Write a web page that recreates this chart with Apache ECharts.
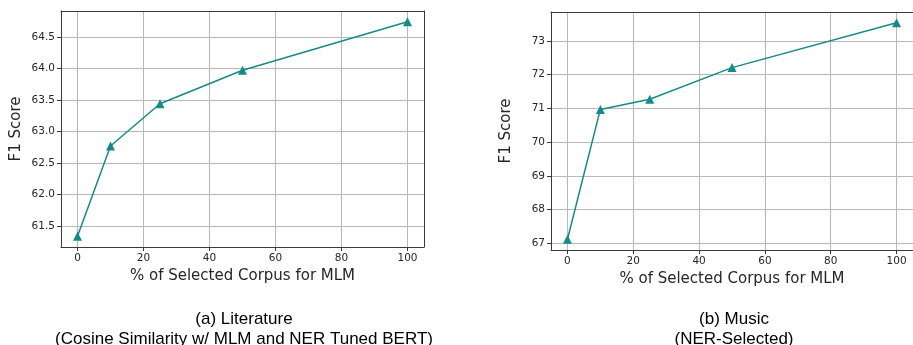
<!DOCTYPE html>
<html>
<head>
<meta charset="utf-8">
<script src="https://cdn.jsdelivr.net/npm/echarts@6/dist/echarts.min.js"></script>
<style>
html, body { margin: 0; padding: 0; background: #fff; }
#main { width: 913px; height: 345px; }
</style>
</head>
<body>
<div id="main"></div>
<script>
// data
var pctCorpus = [0, 10, 25, 50, 100];
var f1Literature = [61.34, 62.77, 63.44, 63.97, 64.74];
var f1Music = [67.12, 70.97, 71.27, 72.21, 73.54];
var xTicks = [0, 20, 40, 60, 80, 100];
var yTicksLit = [61.5, 62.0, 62.5, 63.0, 63.5, 64.0, 64.5];
var yTicksMusic = [67, 68, 69, 70, 71, 72, 73];

var chart = echarts.init(document.getElementById('main'));

var tickFont = { fontFamily: 'DejaVu Sans', fontSize: 10.5, color: '#262626' };
var lineColor = '#148a8a';
var frameColor = '#3a3a3a';
var gridColor = '#b8b8b8';

function pairs(xs, ys) {
    var out = [];
    for (var i = 0; i < xs.length; i++) out.push([xs[i], ys[i]]);
    return out;
}

function xAxisFor(idx) {
    return {
        type: 'value', gridIndex: idx, min: -5, max: 105,
        name: '% of Selected Corpus for MLM', nameLocation: 'middle', nameGap: 22,
        nameTextStyle: { fontFamily: 'DejaVu Sans', fontSize: 15, color: '#262626' },
        axisLine: { show: true, onZero: false, lineStyle: { color: frameColor, width: 1 } },
        axisTick: { show: true, length: 4, inside: false, customValues: xTicks, lineStyle: { color: frameColor } },
        axisLabel: Object.assign({ margin: 6, customValues: xTicks }, tickFont),
        splitLine: { show: true, lineStyle: { color: gridColor, width: 1 } }
    };
}

function yAxisFor(idx, lo, hi, ticks, digits) {
    return {
        type: 'value', gridIndex: idx, min: lo, max: hi,
        name: 'F1 Score', nameLocation: 'middle', nameGap: 37,
        nameTextStyle: { fontFamily: 'DejaVu Sans', fontSize: 15, color: '#262626' },
        axisLine: { show: true, onZero: false, lineStyle: { color: frameColor, width: 1 } },
        axisTick: { show: true, length: 4, inside: false, customValues: ticks, lineStyle: { color: frameColor } },
        axisLabel: Object.assign({
            margin: 6, customValues: ticks,
            formatter: function (v) { return v.toFixed(digits); }
        }, tickFont),
        splitLine: { show: true, lineStyle: { color: gridColor, width: 1 } }
    };
}

// the frame on the top/right sides
function frameAxes(idx) {
    return [
        { type: 'value', gridIndex: idx, position: 'top', min: 0, max: 1,
          axisLine: { show: true, onZero: false, lineStyle: { color: frameColor } },
          axisTick: { show: false }, axisLabel: { show: false }, splitLine: { show: false } },
        { type: 'value', gridIndex: idx, position: 'right', min: 0, max: 1,
          axisLine: { show: true, onZero: false, lineStyle: { color: frameColor } },
          axisTick: { show: false }, axisLabel: { show: false }, splitLine: { show: false } }
    ];
}

var fa0 = frameAxes(0), fa1 = frameAxes(1);

var captionStyle = { fontFamily: 'Liberation Sans', fontSize: 17, fontWeight: 'normal', color: '#000', lineHeight: 20, align: 'center' };

var option = {
    backgroundColor: '#fff',
    animation: false,
    grid: [
        { left: 61, top: 11, width: 363, height: 236 },
        { left: 551, top: 12, width: 368, height: 238 }
    ],
    xAxis: [xAxisFor(0), xAxisFor(1), fa0[0], fa1[0]],
    yAxis: [
        yAxisFor(0, 61.17, 64.91, yTicksLit, 1),
        yAxisFor(1, 66.8, 73.86, yTicksMusic, 0),
        fa0[1], fa1[1]
    ],
    title: [
        { text: '(a) Literature\n(Cosine Similarity w/ MLM and NER Tuned BERT)',
          left: 244, top: 309, padding: 0, textAlign: 'center', textStyle: captionStyle },
        { text: '(b) Music\n(NER-Selected)',
          left: 734, top: 309, padding: 0, textAlign: 'center', textStyle: captionStyle }
    ],
    series: [
        { type: 'line', xAxisIndex: 0, yAxisIndex: 0, data: pairs(pctCorpus, f1Literature),
          symbol: 'triangle', symbolSize: 9, lineStyle: { color: lineColor, width: 1.5 },
          itemStyle: { color: lineColor } },
        { type: 'line', xAxisIndex: 1, yAxisIndex: 1, data: pairs(pctCorpus, f1Music),
          symbol: 'triangle', symbolSize: 9, lineStyle: { color: lineColor, width: 1.5 },
          itemStyle: { color: lineColor } }
    ]
};
chart.setOption(option);
</script>
</body>
</html>
